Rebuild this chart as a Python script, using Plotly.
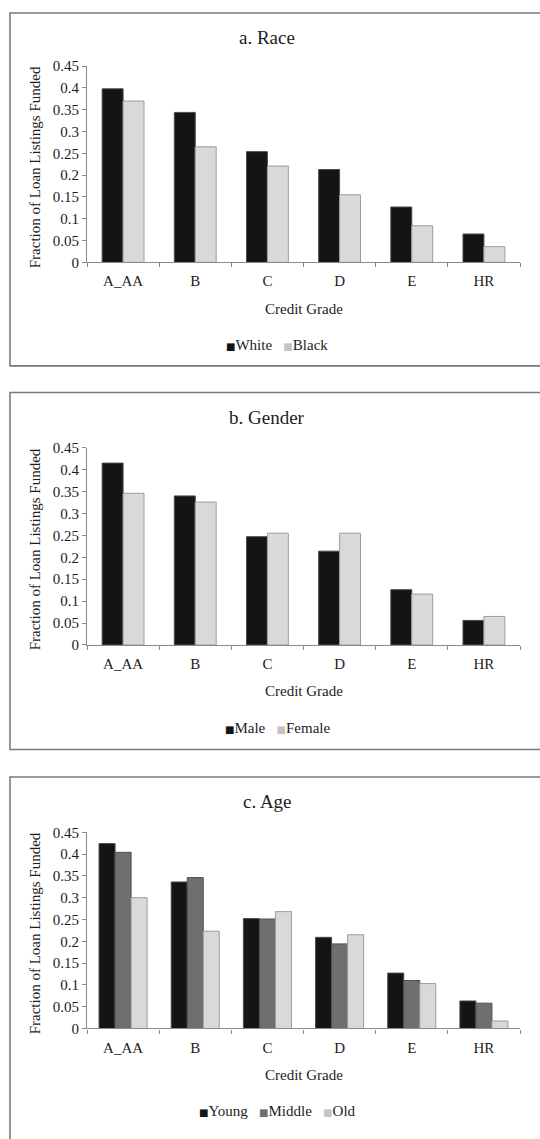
import plotly.graph_objects as go

# Funding rates by credit grade, split by borrower group
grades = ["A_AA", "B", "C", "D", "E", "HR"]

race_white = [0.398, 0.344, 0.254, 0.213, 0.127, 0.065]
race_black = [0.370, 0.265, 0.221, 0.155, 0.084, 0.036]

gender_male = [0.415, 0.340, 0.247, 0.214, 0.126, 0.056]
gender_female = [0.346, 0.326, 0.255, 0.255, 0.116, 0.065]

age_young = [0.424, 0.336, 0.252, 0.209, 0.127, 0.063]
age_middle = [0.404, 0.346, 0.251, 0.194, 0.110, 0.058]
age_old = [0.300, 0.223, 0.268, 0.215, 0.103, 0.017]

y_ticks = [0, 0.05, 0.1, 0.15, 0.2, 0.25, 0.3, 0.35, 0.4, 0.45]
y_tick_text = ["0", "0.05", "0.1", "0.15", "0.2", "0.25", "0.3", "0.35", "0.4", "0.45"]

W, H = 540, 1139
FONT = "Liberation Serif"
TXT = "#1c1c1c"
AXIS = "#8a8a8a"

DARK = "#141414"
MID = "#6f6f6f"
LIGHT = "#d9d9d9"


def px(x):
    return x / W


def py(y):
    return 1 - y / H


# panel geometry in page pixels
panels = [
    dict(title="a. Race", box_top=5, box_bottom=363, plot_top=59, plot_bottom=258,
         series=[("White", race_white, DARK, "#4a4a4a"), ("Black", race_black, LIGHT, "#9c9c9c")]),
    dict(title="b. Gender", box_top=390, box_bottom=752, plot_top=446, plot_bottom=646,
         series=[("Male", gender_male, DARK, "#4a4a4a"), ("Female", gender_female, LIGHT, "#9c9c9c")]),
    dict(title="c. Age", box_top=780, box_bottom=1170, plot_top=836, plot_bottom=1035,
         series=[("Young", age_young, DARK, "#4a4a4a"), ("Middle", age_middle, MID, "#505050"),
                 ("Old", age_old, LIGHT, "#9c9c9c")]),
]

PLOT_LEFT, PLOT_RIGHT = 87, 520

fig = go.Figure()
annotations = []
shapes = []

for i, p in enumerate(panels):
    n = i + 1
    sfx = "" if n == 1 else str(n)
    k = len(p["series"])
    bar_w = 0.29 if k == 2 else 0.222
    legend_parts = []
    for j, (name, vals, col, edge) in enumerate(p["series"]):
        fig.add_trace(go.Bar(
            x=grades, y=vals, name=name,
            xaxis=f"x{sfx}", yaxis=f"y{sfx}",
            width=bar_w, offset=-k * bar_w / 2 + j * bar_w,
            marker=dict(color=col, line=dict(color=edge, width=1)),
            showlegend=False,
        ))
        swatch = col if col != LIGHT else "#c4c4c4"
        legend_parts.append(
            f"<span style='color:{swatch};font-size:10px;font-family:DejaVu Sans'>■</span>{name}"
        )

    y0, y1 = py(p["plot_bottom"]), py(p["plot_top"])
    fig.update_layout(**{
        f"xaxis{sfx}": dict(
            domain=[px(PLOT_LEFT), px(PLOT_RIGHT)], anchor=f"y{sfx}",
            type="category", showgrid=False, showline=True, linecolor=AXIS, linewidth=1.2,
            ticks="outside", tickson="boundaries", ticklen=4, tickcolor=AXIS,
            tickfont=dict(family=FONT, size=15, color=TXT), ticklabelstandoff=5,
            fixedrange=True,
        ),
        f"yaxis{sfx}": dict(
            domain=[y0, y1], anchor=f"x{sfx}", range=[0, 0.45],
            tickvals=y_ticks, ticktext=y_tick_text,
            showgrid=False, zeroline=False, showline=True, linecolor=AXIS, linewidth=1.2,
            ticks="outside", ticklen=4, tickcolor=AXIS,
            tickfont=dict(family=FONT, size=15, color=TXT),
            fixedrange=True,
        ),
    })

    # chart border
    shapes.append(dict(type="rect", xref="paper", yref="paper",
                       x0=px(10), x1=px(560), y0=py(p["box_bottom"]), y1=py(p["box_top"]),
                       line=dict(color="#7a7a7a", width=1.6), fillcolor="rgba(0,0,0,0)",
                       layer="below"))

    annotations.append(dict(text=p["title"], xref="paper", yref="paper",
                            x=px(267), y=py(p["box_top"] + 25), xanchor="center", yanchor="middle",
                            showarrow=False, font=dict(family=FONT, size=19, color=TXT)))
    annotations.append(dict(text="Credit Grade", xref="paper", yref="paper",
                            x=px((PLOT_LEFT + PLOT_RIGHT) / 2), y=py(p["plot_bottom"] + 47),
                            xanchor="center", yanchor="middle",
                            showarrow=False, font=dict(family=FONT, size=15, color=TXT)))
    annotations.append(dict(text="Fraction of Loan Listings Funded", xref="paper", yref="paper",
                            x=px(35), y=py((p["plot_top"] + p["plot_bottom"]) / 2 + 3),
                            xanchor="center", yanchor="middle", textangle=-90,
                            showarrow=False, font=dict(family=FONT, size=15, color=TXT)))
    # legend row beneath the axis title
    annotations.append(dict(text="&nbsp;&nbsp;&nbsp;".join(legend_parts), xref="paper", yref="paper",
                            x=px(277), y=py(p["plot_bottom"] + 84),
                            xanchor="center", yanchor="middle",
                            showarrow=False, font=dict(family=FONT, size=15, color=TXT)))

fig.update_layout(
    width=W, height=H,
    margin=dict(l=0, r=0, t=0, b=0),
    paper_bgcolor="white", plot_bgcolor="white",
    barmode="group",
    showlegend=False,
    annotations=annotations,
    shapes=shapes,
)

fig.write_html("out.html")
